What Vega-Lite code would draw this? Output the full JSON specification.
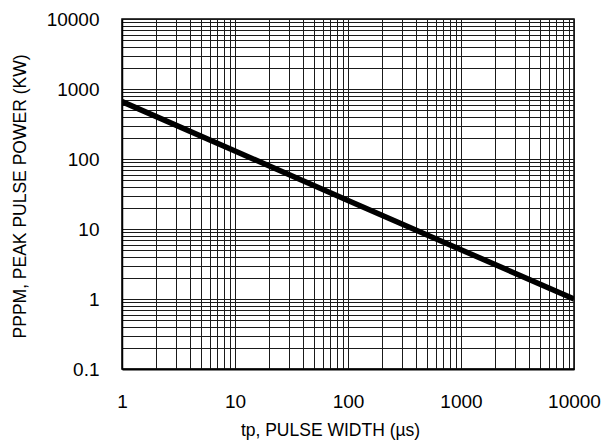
{
  "$schema": "https://vega.github.io/schema/vega-lite/v6.json",
  "autosize": "none",
  "width": 452,
  "height": 350,
  "padding": {"left": 122, "top": 19, "right": 38, "bottom": 72},
  "background": "white",
  "config": {
    "view": {"stroke": "black", "strokeWidth": 1.5},
    "axis": {"labelFont": "Liberation Sans", "titleFont": "Liberation Sans", "labelColor": "black", "titleColor": "black", "titleFontWeight": "normal", "grid": true, "gridColor": "#1a1a1a", "gridOpacity": 1, "gridWidth": 1, "ticks": false, "tickSize": 0}
  },
  "data": {"values": [
    {"tp": 1, "ppm": 660},
    {"tp": 10, "ppm": 130},
    {"tp": 100, "ppm": 25.6},
    {"tp": 1000, "ppm": 5.06},
    {"tp": 10000, "ppm": 1}
  ]},
  "mark": {"type": "line", "color": "black", "strokeWidth": 5.5, "clip": true},
  "encoding": {
    "x": {
      "field": "tp", "type": "quantitative",
      "scale": {"type": "log", "domain": [1, 10000], "nice": false},
      "axis": {
        "title": "tp, PULSE WIDTH (µs)",
        "titleFontSize": 17.5,
        "titleX": 208, "titleY": 66, "titleBaseline": "alphabetic", "titleAnchor": "middle",
        "labelFontSize": 19, "labelPadding": 38, "labelBaseline": "alphabetic",
        "domainColor": "black", "domainWidth": 2,
        "values": [1,2,3,4,5,6,7,8,9,10,20,30,40,50,60,70,80,90,100,200,300,400,500,600,700,800,900,1000,2000,3000,4000,5000,6000,7000,8000,9000,10000],
        "labelExpr": "abs(log(datum.value)/LN10 - round(log(datum.value)/LN10)) < 1e-6 ? format(datum.value, '~r') : ''",
        "labelOverlap": false, "labelFlush": false
      }
    },
    "y": {
      "field": "ppm", "type": "quantitative",
      "scale": {"type": "log", "domain": [0.1, 10000], "nice": false},
      "axis": {
        "title": "PPPM, PEAK PULSE POWER (KW)",
        "titleFontSize": 17.5,
        "titleX": -97, "titleY": 177, "titleBaseline": "alphabetic", "titleAnchor": "middle", "titleAngle": -90,
        "labelFontSize": 19, "labelPadding": 23, "labelBaseline": "middle",
        "domainColor": "black", "domainWidth": 1.5,
        "values": [0.1,0.2,0.3,0.4,0.5,0.6,0.7,0.8,0.9,1,2,3,4,5,6,7,8,9,10,20,30,40,50,60,70,80,90,100,200,300,400,500,600,700,800,900,1000,2000,3000,4000,5000,6000,7000,8000,9000,10000],
        "labelExpr": "abs(log(datum.value)/LN10 - round(log(datum.value)/LN10)) < 1e-6 ? format(datum.value, '~r') : ''",
        "labelOverlap": false, "labelFlush": false
      }
    }
  }
}
